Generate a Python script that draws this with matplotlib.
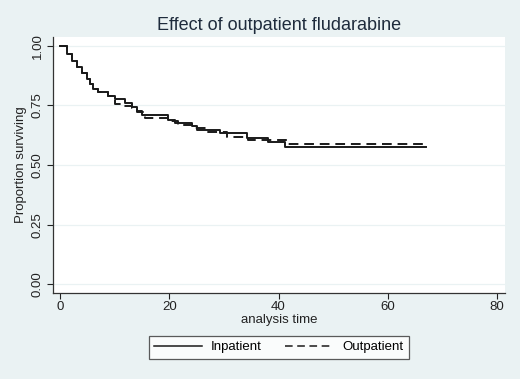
import matplotlib
matplotlib.use("Agg")
import matplotlib.pyplot as plt
from matplotlib.lines import Line2D

plt.rcParams["font.family"] = ["Liberation Sans", "DejaVu Sans"]

# Kaplan-Meier step estimates
in_time = [0, 1.2, 2.1, 3.0, 3.9, 4.8, 5.4, 6.0, 6.9, 8.7, 10.0, 11.9, 13.1, 14.0,
           14.9, 19.8, 21.0, 24.1, 25.0, 29.3, 34.2, 38.1, 41.1, 67.0]
in_surv = [1.0, 0.965, 0.937, 0.912, 0.884, 0.859, 0.84, 0.817, 0.805, 0.79, 0.776,
           0.758, 0.744, 0.728, 0.71, 0.69, 0.677, 0.663, 0.647, 0.633, 0.615,
           0.596, 0.575, 0.575]

out_time = [0, 1.2, 2.1, 3.0, 3.9, 4.8, 5.4, 6.0, 6.9, 8.7, 10.0, 11.5, 13.1, 14.0,
            15.6, 19.8, 21.6, 24.4, 26.8, 30.5, 34.4, 41.8, 67.0]
out_surv = [1.0, 0.965, 0.937, 0.912, 0.884, 0.859, 0.84, 0.817, 0.805, 0.79, 0.756,
            0.748, 0.738, 0.722, 0.697, 0.685, 0.668, 0.655, 0.637, 0.617, 0.605,
            0.587, 0.587]

x_ticks = [0, 20, 40, 60, 80]
y_ticks = [0.0, 0.25, 0.5, 0.75, 1.0]
y_labels = ["0.00", "0.25", "0.50", "0.75", "1.00"]

BG = "#EAF2F3"
INK = "#1a1a1a"
FS = 9.5

fig = plt.figure(figsize=(5.2, 3.79), dpi=100, facecolor=BG)
ax = fig.add_axes([0.102, 0.227, 0.869, 0.675])
ax.set_facecolor("white")

ax.step(in_time, in_surv, where="post", color=INK, lw=1.4, label="Inpatient")
ax.step(out_time, out_surv, where="post", color=INK, lw=1.4,
        dashes=(5, 3), label="Outpatient")

ax.set_xlim(-1.34, 81.5)
ax.set_ylim(-0.036, 1.036)
ax.set_xticks(x_ticks)
ax.set_yticks(y_ticks)
ax.set_yticklabels(y_labels, rotation=90, va="center")
ax.tick_params(colors="#222222", labelsize=FS, length=4.3, width=0.8, direction="out")
ax.tick_params(axis="y", pad=2.5)
ax.tick_params(axis="x", pad=1.5)
for yv in y_ticks:
    ax.axhline(yv, color="#EAF2F3", lw=0.9, zorder=0)

for side in ["top", "right"]:
    ax.spines[side].set_visible(False)
for side in ["left", "bottom"]:
    ax.spines[side].set_color("#333333")
    ax.spines[side].set_linewidth(0.9)

ax.set_xlabel("analysis time", fontsize=FS, color="#222222", labelpad=1)
ax.set_ylabel("Proportion surviving", fontsize=FS, color="#222222", labelpad=3)
fig.text(0.536, 0.934, "Effect of outpatient fludarabine", ha="center", va="center",
         fontsize=13, color="#1E2B3C")

handles = [Line2D([], [], color=INK, lw=1.1),
           Line2D([], [], color=INK, lw=1.1, dashes=(5, 3))]
leg = fig.legend(handles, ["Inpatient", "Outpatient"], loc="center",
                 bbox_to_anchor=(0.536, 0.084), ncol=2, fontsize=FS,
                 frameon=True, fancybox=False, handlelength=3.6,
                 columnspacing=1.8, handletextpad=0.7, borderpad=0.4)
leg.get_frame().set_edgecolor("#333333")
leg.get_frame().set_linewidth(0.9)
leg.get_frame().set_facecolor("white")

fig.savefig("out.png", dpi=100, facecolor=BG)
